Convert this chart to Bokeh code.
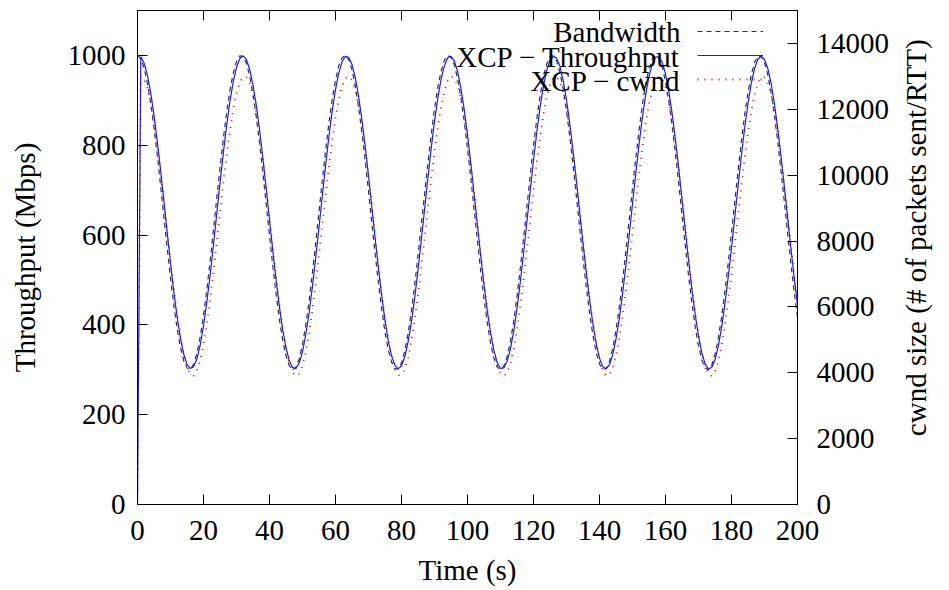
import math
from bokeh.plotting import figure
from bokeh.layouts import row
from bokeh.models import Range1d, LinearAxis, FixedTicker, Legend, LegendItem, Label
from bokeh.embed import file_html
from bokeh.resources import INLINE

# ---------------- data ----------------
time_s = list(range(0, 201))

bandwidth = [
    1000, 993, 972, 939, 894, 839, 777, 710, 640, 571,
    504, 444, 392, 350, 320, 304, 301, 312, 336, 373,
    421, 478, 542, 611, 681, 749, 814, 872, 922, 960,
    986, 999, 998, 983, 954, 914, 863, 804, 738, 669,
    599, 531, 468, 412, 366, 331, 309, 300, 305, 324,
    356, 400, 454, 515, 582, 652, 721, 788, 849, 902,
    945, 977, 995, 1000, 991, 968, 932, 885, 829, 766,
    698, 628, 559, 494, 435, 384, 344, 317, 302, 302,
    315, 342, 381, 430, 489, 554, 623, 692, 761, 824,
    881, 929, 965, 989, 1000, 996, 979, 948, 906, 854,
    793, 727, 657, 588, 520, 458, 404, 359, 326, 306,
    300, 308, 329, 363, 408, 464, 526, 594, 663, 733,
    799, 859, 910, 952, 981, 997, 999, 988, 963, 925,
    876, 819, 755, 686, 616, 548, 483, 426, 377, 339,
    313, 301, 303, 318, 347, 388, 440, 499, 565, 634,
    704, 772, 834, 890, 936, 970, 992, 1000, 994, 975,
    942, 898, 844, 782, 715, 645, 576, 509, 449, 396,
    353, 322, 304, 300, 310, 334, 370, 417, 474, 537,
    605, 675, 744, 809, 868, 918, 957, 985, 998, 998,
    984, 957, 918, 867, 809, 743, 675, 605, 537, 473,
    417,
]

throughput = [
    0, 997, 983, 956, 917, 867, 808, 744, 675, 606,
    538, 474, 418, 371, 335, 312, 303, 307, 324, 355,
    397, 450, 510, 577, 646, 715, 782, 843, 897, 941,
    973, 993, 999, 991, 969, 934, 889, 834, 771, 704,
    634, 565, 500, 440, 389, 349, 320, 305, 303, 315,
    340, 378, 427, 485, 549, 617, 687, 755, 819, 876,
    924, 961, 986, 998, 996, 980, 950, 909, 857, 798,
    732, 663, 594, 527, 465, 410, 364, 331, 310, 302,
    309, 329, 362, 406, 460, 522, 589, 658, 727, 793,
    853, 905, 947, 977, 995, 998, 988, 964, 927, 880,
    824, 760, 692, 623, 554, 489, 431, 382, 343, 316,
    303, 304, 319, 346, 386, 436, 495, 560, 629, 698,
    766, 829, 885, 931, 967, 989, 998, 994, 976, 944,
    901, 848, 787, 721, 651, 582, 516, 455, 402, 358,
    326, 307, 302, 311, 333, 368, 414, 470, 532, 600,
    669, 738, 803, 862, 913, 953, 981, 996, 997, 985,
    959, 920, 871, 813, 749, 680, 611, 543, 479, 423,
    375, 338, 313, 302, 305, 322, 352, 394, 446, 506,
    571, 640, 710, 777, 839, 893, 938, 971, 992, 998,
    991, 971, 938, 893, 838, 776, 709, 640, 571, 505,
    445,
]

cwnd = [
    0, 13000, 12910, 12640, 12210, 11620, 10910, 10100, 9230, 8320,
    7420, 6550, 5770, 5100, 4550, 4160, 3950, 3910, 4060, 4370,
    4850, 5470, 6210, 7050, 7940, 8850, 9740, 10580, 11340, 11990,
    12480, 12820, 12990, 12970, 12780, 12400, 11880, 11220, 10450, 9590,
    8700, 7790, 6900, 6080, 5360, 4760, 4300, 4020, 3900, 3970,
    4210, 4630, 5200, 5900, 6700, 7570, 8480, 9370, 10240, 11040,
    11730, 12290, 12700, 12940, 13000, 12880, 12580, 12120, 11510, 10780,
    9960, 9070, 8160, 7270, 6420, 5660, 4990, 4470, 4120, 3930,
    3930, 4100, 4450, 4950, 5590, 6360, 7200, 8100, 9000, 9890,
    10710, 11450, 12080, 12550, 12860, 13000, 12950, 12730, 12320, 11780,
    11100, 10310, 9450, 8540, 7640, 6760, 5950, 5250, 4670, 4240,
    3980, 3900, 4000, 4280, 4720, 5300, 6030, 6840, 7720, 8620,
    9530, 10390, 11170, 11830, 12380, 12750, 12960, 12990, 12840, 12520,
    12030, 11390, 10650, 9820, 8920, 8010, 7120, 6280, 5540, 4900,
    4410, 4070, 3910, 3940, 4130, 4510, 5040, 5720, 6490, 7350,
    8240, 9150, 10040, 10840, 11570, 12170, 12610, 12900, 13000, 12920,
    12680, 12250, 11670, 10970, 10170, 9300, 8390, 7490, 6620, 5840,
    5150, 4590, 4190, 3950, 3900, 4030, 4340, 4810, 5420, 6160,
    6980, 7870, 8780, 9670, 10520, 11280, 11930, 12440, 12810, 12970,
    12970, 12790, 12440, 11930, 11270, 10520, 9660, 8780, 7870, 6980,
    6150,
]

x_ticks = [0, 20, 40, 60, 80, 100, 120, 140, 160, 180, 200]
y_ticks = [0, 200, 400, 600, 800, 1000]
y2_ticks = [0, 2000, 4000, 6000, 8000, 10000, 12000, 14000]

series_names = ["Bandwidth", "XCP \u2212 Throughput", "XCP \u2212 cwnd"]
x_label = "Time (s)"
y_label = "Throughput (Mbps)"
y2_label = "cwnd size (# of packets sent/RTT)"

# ---------------- styling ----------------
FONT = "Liberation Serif"
FS = "29px"
H = 588
W_MAIN = 900
W_SIDE = 45

p = figure(width=W_MAIN, height=H, output_backend="svg", toolbar_location=None,
           x_range=Range1d(0, 200), y_range=Range1d(0, 1100),
           min_border_left=137, min_border_right=W_MAIN - 797,
           min_border_top=10, min_border_bottom=H - 504)
p.extra_y_ranges = {"cwnd": Range1d(0, 15000)}
p.grid.visible = False
p.outline_line_color = "black"
p.outline_line_width = 1
p.background_fill_color = "white"
p.border_fill_color = "white"


def style_axis(ax, ticks, show_labels=True):
    ax.ticker = FixedTicker(ticks=ticks)
    ax.major_tick_in = 10
    ax.major_tick_out = 0
    ax.minor_tick_in = 0
    ax.minor_tick_out = 0
    ax.axis_line_color = "black"
    ax.major_tick_line_color = "black"
    ax.major_label_text_font = FONT
    ax.major_label_text_font_size = FS
    ax.axis_label_text_font = FONT
    ax.axis_label_text_font_size = FS
    ax.axis_label_text_font_style = "normal"
    ax.axis_label_text_color = "black"
    if show_labels:
        ax.major_label_text_color = "black"
    else:
        ax.major_label_text_color = None
        ax.major_label_standoff = 0


xa = p.xaxis[0]
style_axis(xa, x_ticks)
xa.axis_label = x_label
xa.major_label_standoff = 16
xa.axis_label_standoff = 11

ya = p.yaxis[0]
style_axis(ya, y_ticks)
ya.axis_label = y_label
ya.major_label_standoff = 12
ya.axis_label_standoff = 24

top = LinearAxis()
style_axis(top, x_ticks, show_labels=False)
p.add_layout(top, "above")

ra = LinearAxis(y_range_name="cwnd")
style_axis(ra, y2_ticks)
ra.major_label_standoff = 19
p.add_layout(ra, "right")

r_bw = p.line(time_s, bandwidth, line_color="#333333", line_dash="5 4", line_width=1.2)
r_thr = p.line(time_s, throughput, line_color="#1a1aff", line_width=1.2)
r_cw = p.line(time_s, cwnd, y_range_name="cwnd", line_color="#b01818",
              line_dash="1 6", line_width=1.8)

legend = Legend(items=[LegendItem(label=" ", renderers=[r]) for r in (r_bw, r_thr, r_cw)],
                location=(560, 413), glyph_width=66, glyph_height=24,
                label_width=0, label_height=0, label_standoff=0, spacing=0,
                padding=0, margin=0, background_fill_alpha=0, border_line_alpha=0,
                label_text_font_size="1px", label_text_color=None)
p.add_layout(legend)

row_y = [473, 448, 424]
for name, yy in zip(series_names, row_y):
    p.add_layout(Label(x=543, y=yy, x_units="screen", y_units="screen", text=name,
                       text_align="right", text_baseline="middle",
                       text_font=FONT, text_font_size=FS, text_color="black"))

# side strip holding the right-hand axis title, reading bottom-to-top
side = figure(width=W_SIDE, height=H, output_backend="svg", toolbar_location=None,
              x_range=Range1d(0, 1), y_range=Range1d(0, 1),
              x_axis_location=None, y_axis_location=None, min_border=0)
side.grid.visible = False
side.outline_line_color = None
side.background_fill_color = "white"
side.border_fill_color = "white"
side.add_layout(Label(x=0.34, y=0.54, text=y2_label, angle=90, angle_units="deg",
                      text_align="center", text_baseline="middle",
                      text_font=FONT, text_font_size=FS, text_color="black"))

layout = row(p, side)
open("out.html", "w").write(file_html(layout, INLINE))
